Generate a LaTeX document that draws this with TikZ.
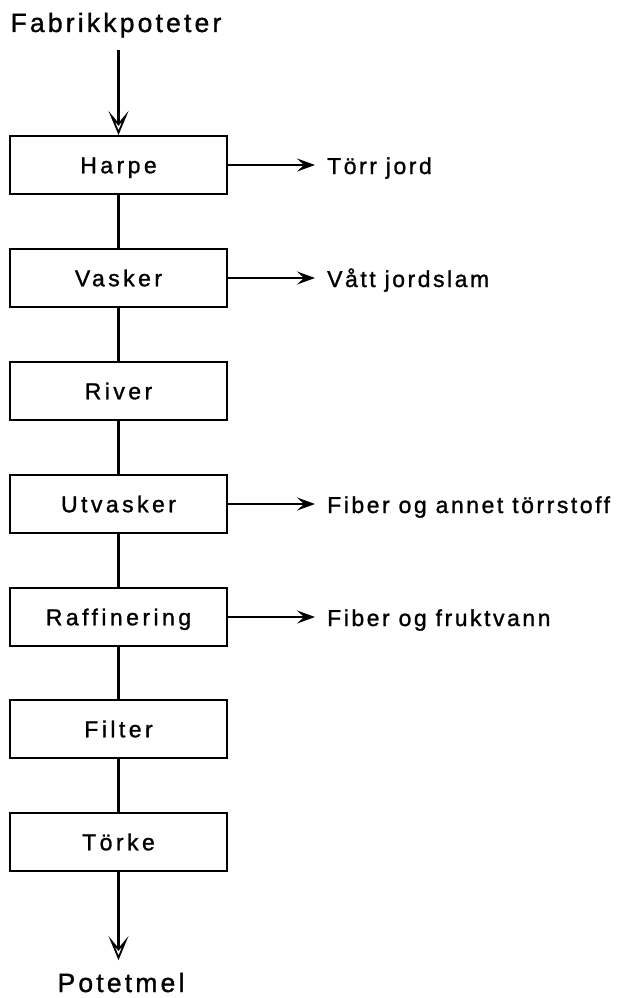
\documentclass[tikz,border=0pt]{standalone}
\usepackage{fontspec}
\setmainfont{Liberation Sans}
\newfontfamily\titlefont[LetterSpace=12,FakeBold=1.2]{Liberation Sans}
\newfontfamily\boxfont[LetterSpace=15,FakeBold=1.2]{Liberation Sans}
\newfontfamily\sidefont[LetterSpace=11,FakeBold=1.2]{Liberation Sans}
\usetikzlibrary{arrows.meta}
\begin{document}
\begin{tikzpicture}[x=1pt,y=-1pt,
  stepbox/.style={draw, line width=2pt, minimum width=217pt, minimum height=58pt,
    inner sep=0pt, font={\boxfont\fontsize{23}{23}\selectfont}, text height=16.5pt, text depth=0pt},
  endlabel/.style={inner sep=0pt, anchor=base, font={\titlefont\fontsize{26.5}{26.5}\selectfont}},
  sidelabel/.style={inner sep=0pt, anchor=base west, font={\sidefont\fontsize{23}{23}\selectfont}},
  vline/.style={line width=3.5pt},
  vtip/.style={-{Stealth[open,length=24pt,width=20pt,inset=12pt,line width=1.8pt]}},
  hline/.style={line width=2pt, -{Stealth[length=18pt,width=13pt,inset=7pt]}, shorten >=12pt}
]
\useasboundingbox (0,0) rectangle (622,998);

\node[endlabel] (src) at (116,32) {Fabrikkpoteter};

\node[stepbox] (harpe)  at (118.5,165) {Harpe};
\node[stepbox] (vasker) at (118.5,278) {Vasker};
\node[stepbox] (river)  at (118.5,391) {River};
\node[stepbox] (utv)    at (118.5,504) {Utvasker};
\node[stepbox] (raff)   at (118.5,617) {Raffinering};
\node[stepbox] (filter) at (118.5,729) {Filter};
\node[stepbox] (torke)  at (118.5,842) {Törke};

\node[endlabel] (dst) at (121,992) {Potetmel};

\node[sidelabel] (l1) at (327,174) {Törr jord};
\node[sidelabel] (l2) at (327,287) {Vått jordslam};
\node[sidelabel] (l3) at (327,513) {Fiber og annet törrstoff};
\node[sidelabel] (l4) at (327,626) {Fiber og fruktvann};

\draw[vline, vtip, shorten <=12pt] (src.south -| harpe.north) -- (harpe.north);
\draw[vline] (harpe) -- (vasker);
\draw[vline] (vasker) -- (river);
\draw[vline] (river) -- (utv);
\draw[vline] (utv) -- (raff);
\draw[vline] (raff) -- (filter);
\draw[vline] (filter) -- (torke);
\draw[vline, vtip, shorten >=12.5pt] (torke.south) -- (torke.south |- dst.north);

\draw[hline] (harpe.east) -- (harpe.east -| l1.west);
\draw[hline] (vasker.east) -- (vasker.east -| l2.west);
\draw[hline] (utv.east) -- (utv.east -| l3.west);
\draw[hline] (raff.east) -- (raff.east -| l4.west);
\end{tikzpicture}
\end{document}
